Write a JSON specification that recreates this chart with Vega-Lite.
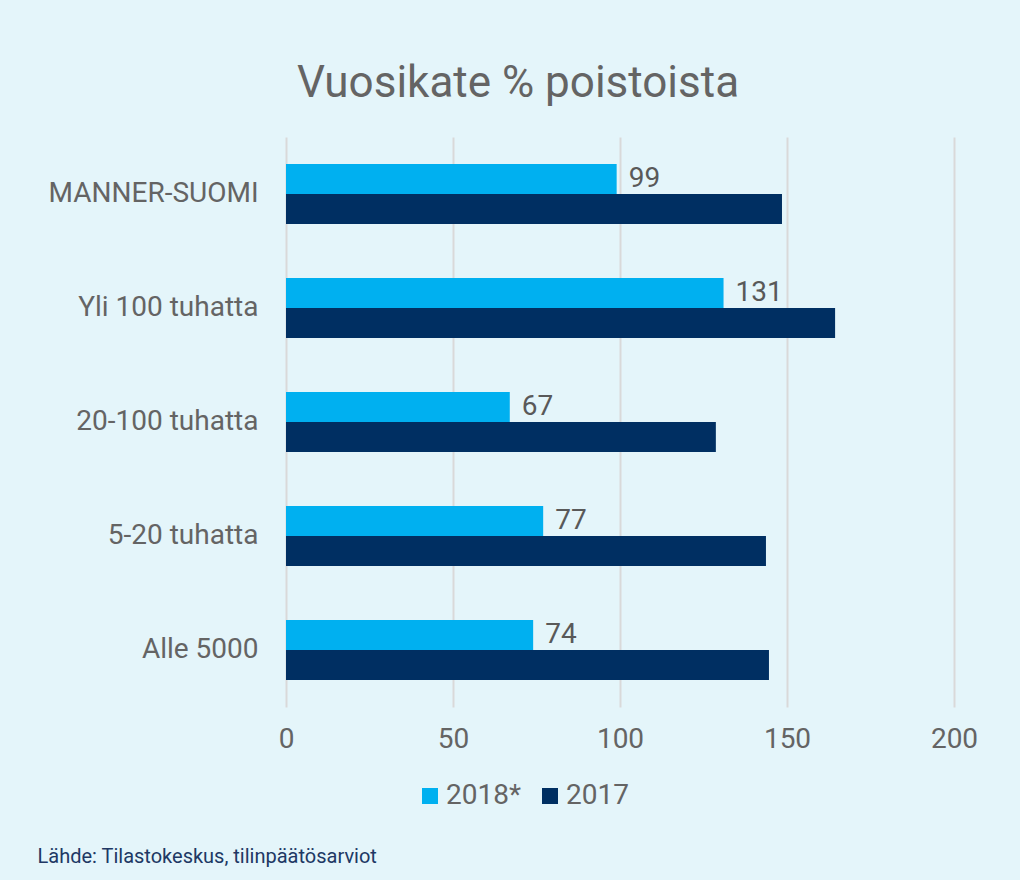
{
  "$schema": "https://vega.github.io/schema/vega-lite/v6.json",
  "width": 668,
  "height": 570,
  "autosize": {"type": "none"},
  "padding": {"left": 286, "top": 137, "right": 66, "bottom": 173},
  "background": "#e4f5fa",
  "config": {
    "font": "Roboto",
    "view": {"stroke": null},
    "axis": {"labelFont": "Roboto", "titleFont": "Roboto"}
  },
  "title": {
    "text": "Vuosikate % poistoista",
    "fontSize": 44,
    "fontWeight": "normal",
    "color": "#646464",
    "anchor": "middle",
    "frame": "group",
    "dx": -102,
    "offset": 31
  },
  "data": {
    "values": [
      {"group": "MANNER-SUOMI", "year": "2018*", "value": 99},
      {"group": "MANNER-SUOMI", "year": "2017", "value": 148.5},
      {"group": "Yli 100 tuhatta", "year": "2018*", "value": 131},
      {"group": "Yli 100 tuhatta", "year": "2017", "value": 164.4},
      {"group": "20-100 tuhatta", "year": "2018*", "value": 67},
      {"group": "20-100 tuhatta", "year": "2017", "value": 128.7},
      {"group": "5-20 tuhatta", "year": "2018*", "value": 77},
      {"group": "5-20 tuhatta", "year": "2017", "value": 143.7},
      {"group": "Alle 5000", "year": "2018*", "value": 74},
      {"group": "Alle 5000", "year": "2017", "value": 144.6}
    ]
  },
  "encoding": {
    "y": {
      "field": "group",
      "type": "nominal",
      "sort": ["MANNER-SUOMI", "Yli 100 tuhatta", "20-100 tuhatta", "5-20 tuhatta", "Alle 5000"],
      "scale": {"paddingInner": 0.4737, "paddingOuter": 0.237},
      "axis": {
        "title": null,
        "ticks": false,
        "domain": false,
        "grid": false,
        "labelFontSize": 28,
        "labelColor": "#646464",
        "labelPadding": 28,
        "labelLimit": 400
      }
    },
    "yOffset": {
      "field": "year",
      "type": "nominal",
      "scale": {"domain": ["2018*", "2017"], "paddingInner": 0, "paddingOuter": 0}
    },
    "x": {
      "field": "value",
      "type": "quantitative",
      "scale": {"domain": [0, 200], "nice": false},
      "axis": {
        "values": [0, 50, 100, 150, 200],
        "ticks": false,
        "domain": false,
        "grid": true,
        "gridColor": "#d9d9d9",
        "gridWidth": 2,
        "labelFontSize": 28,
        "labelColor": "#646464",
        "labelPadding": 18,
        "labelFlush": false,
        "title": "Lähde: Tilastokeskus, tilinpäätösarviot",
        "titleFontSize": 20,
        "titleFontWeight": "normal",
        "titleColor": "#203864",
        "titleAlign": "left",
        "titleBaseline": "alphabetic",
        "titleX": -249,
        "titleY": 155
      }
    }
  },
  "layer": [
    {
      "mark": {"type": "bar"},
      "encoding": {
        "color": {
          "field": "year",
          "type": "nominal",
          "scale": {"domain": ["2018*", "2017"], "range": ["#00b0f0", "#002f62"]},
          "legend": {
            "title": null,
            "orient": "none",
            "direction": "horizontal",
            "legendX": 130,
            "legendY": 645,
            "symbolType": "square",
            "symbolSize": 256,
            "symbolStrokeWidth": 0,
            "labelFontSize": 28,
            "labelColor": "#646464",
            "labelOffset": 2,
            "columnPadding": 14
          }
        }
      }
    },
    {
      "transform": [{"filter": "datum.year === '2018*'"}],
      "mark": {"type": "text", "align": "left", "baseline": "middle", "dx": 12, "fontSize": 28, "color": "#595959"},
      "encoding": {
        "text": {"field": "value", "type": "quantitative"}
      }
    }
  ]
}
